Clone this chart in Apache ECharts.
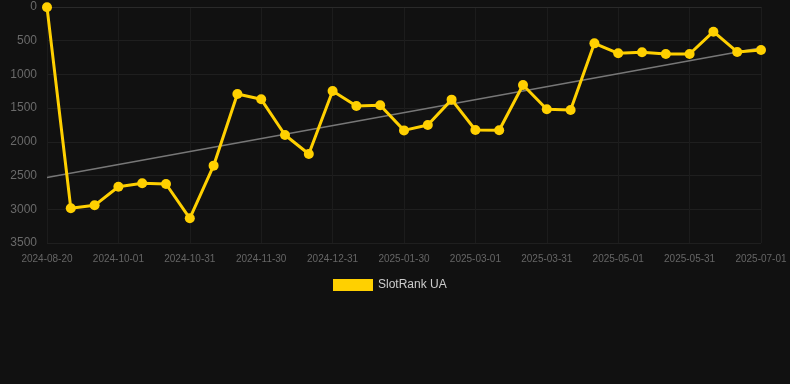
<!DOCTYPE html>
<html>
<head>
<meta charset="utf-8">
<script src="https://cdn.jsdelivr.net/npm/echarts@6/dist/echarts.min.js"></script>
<style>
html,body{margin:0;padding:0;background:#111111;}
#c{width:790px;height:384px;}
</style>
</head>
<body>
<div id="c"></div>
<script>
var categories = [
  '2024-08-20','2024-09-11','2024-09-21','2024-10-01','2024-10-11','2024-10-21',
  '2024-10-31','2024-11-10','2024-11-20','2024-11-30','2024-12-10','2024-12-20',
  '2024-12-31','2025-01-10','2025-01-20','2025-01-30','2025-02-09','2025-02-19',
  '2025-03-01','2025-03-11','2025-03-21','2025-03-31','2025-04-10','2025-04-20',
  '2025-05-01','2025-05-11','2025-05-21','2025-05-31','2025-06-10','2025-06-20',
  '2025-07-01'
];
var rankValues = [
  5, 2985, 2941, 2665, 2615, 2625,
  3134, 2353, 1290, 1369, 1898, 2180,
  1246, 1468, 1458, 1830, 1750, 1374,
  1824, 1828, 1157, 1517, 1527, 539,
  687, 672, 697, 697, 366, 667,
  638
];
var trendEnds = [2530, 605];
var seriesName = 'SlotRank UA';

var trendData = categories.map(function (c, i) {
  if (i === 0) return trendEnds[0];
  if (i === categories.length - 1) return trendEnds[1];
  return null;
});

var chart = echarts.init(document.getElementById('c'));
chart.setOption({
  backgroundColor: '#111111',
  animation: false,
  grid: { left: 47, right: 29, top: 7, bottom: 141 },
  legend: {
    data: [seriesName],
    top: 274,
    left: 328,
    icon: 'rect',
    itemWidth: 40,
    itemHeight: 12,
    textStyle: { color: '#cccccc', fontSize: 12 }
  },
  xAxis: {
    type: 'category',
    data: categories,
    boundaryGap: false,
    axisLine: { lineStyle: { color: '#2a2a2a' } },
    axisTick: { show: false },
    axisLabel: { interval: 2, color: '#666666', fontSize: 10, margin: 11 },
    splitLine: { show: true, interval: 2, lineStyle: { color: '#1c1c1c' } }
  },
  yAxis: {
    type: 'value',
    inverse: true,
    min: 0,
    max: 3500,
    interval: 500,
    axisLine: { show: false },
    axisTick: { show: false },
    axisLabel: { color: '#6a6a6a', fontSize: 12, margin: 10, formatter: function (v) { return String(v); } },
    splitLine: { lineStyle: { color: '#1f1f1f' } }
  },
  series: [
    {
      name: seriesName,
      type: 'line',
      data: rankValues,
      symbol: 'circle',
      symbolSize: 10,
      itemStyle: { color: '#FFD000' },
      lineStyle: { color: '#FFD000', width: 3 },
      z: 3
    },
    {
      name: 'trend',
      type: 'line',
      data: trendData,
      connectNulls: true,
      symbol: 'none',
      lineStyle: { color: '#777777', width: 1.5 },
      z: 2
    }
  ]
});
</script>
</body>
</html>
